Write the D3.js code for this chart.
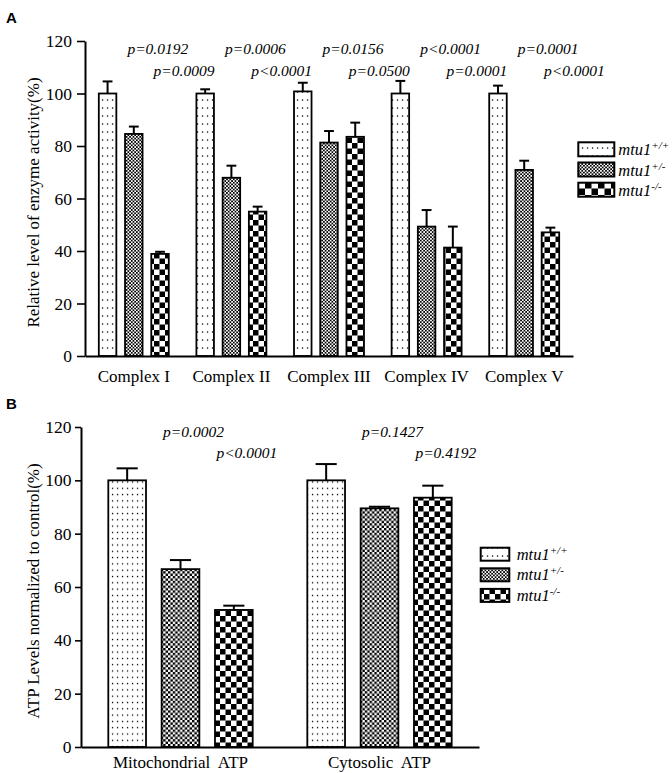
<!DOCTYPE html>
<html><head><meta charset="utf-8">
<script src="https://cdn.jsdelivr.net/npm/d3@7"></script>
<style>
body{margin:0;background:#fff}
svg text{font-family:"Liberation Serif","Times New Roman",serif;fill:#000}
</style></head><body>
<svg id="chart" width="672" height="773"></svg>
<script>
// ---------- data ----------
const seriesBase = ["mtu1", "mtu1", "mtu1"];
const seriesSup = ["+/+", "+/-", "-/-"];
const yTicks = [0, 20, 40, 60, 80, 100, 120];

// Panel A
const complexCategories = ["Complex I", "Complex II", "Complex III", "Complex IV", "Complex V"];
const complexWT = [100, 100, 100.8, 100, 100];
const complexWTErr = [4.6, 1.6, 3.3, 4.8, 3.0];
const complexHet = [84.6, 67.9, 81.3, 49.3, 70.9];
const complexHetErr = [2.8, 4.6, 4.4, 6.3, 3.5];
const complexKO = [38.9, 55.0, 83.5, 41.3, 47.1];
const complexKOErr = [0.8, 1.9, 5.4, 8.0, 1.8];
const complexPHet = ["p=0.0192", "p=0.0006", "p=0.0156", "p<0.0001", "p=0.0001"];
const complexPKO = ["p=0.0009", "p<0.0001", "p=0.0500", "p=0.0001", "p<0.0001"];

// Panel B
const atpCategories = ["Mitochondrial  ATP", "Cytosolic  ATP"];
const atpWT = [100, 100];
const atpWTErr = [4.5, 6.1];
const atpHet = [66.7, 89.5];
const atpHetErr = [3.4, 0.6];
const atpKO = [51.4, 93.5];
const atpKOErr = [1.6, 4.5];
const atpPHet = ["p=0.0002", "p=0.1427"];
const atpPKO = ["p<0.0001", "p=0.4192"];

// ---------- drawing ----------
const SERIF = "'Liberation Serif', 'Times New Roman', serif";
const svg = d3.select("#chart");
const defs = svg.append("defs");

function dotPattern(id, w, h) {
  const p = defs.append("pattern").attr("id", id).attr("patternUnits", "userSpaceOnUse")
    .attr("width", w).attr("height", h);
  p.append("rect").attr("width", w).attr("height", h).attr("fill", "#fff");
  p.append("rect").attr("x", w / 2 - 0.6).attr("y", h / 2 - 0.6).attr("width", 1.3).attr("height", 1.3).attr("fill", "#000");
}
function checkPattern(id, c) {
  const p = defs.append("pattern").attr("id", id).attr("patternUnits", "userSpaceOnUse")
    .attr("width", 2 * c).attr("height", 2 * c);
  p.append("rect").attr("width", 2 * c).attr("height", 2 * c).attr("fill", "#fff");
  p.append("rect").attr("width", c).attr("height", c).attr("fill", "#000");
  p.append("rect").attr("x", c).attr("y", c).attr("width", c).attr("height", c).attr("fill", "#000");
}
dotPattern("dotsA", 5, 8);
dotPattern("dotsB", 5, 6.3);
checkPattern("hetA", 1.7);
checkPattern("hetB", 2.4);
checkPattern("koA", 5.5);
checkPattern("koB", 5.5);
checkPattern("koLegA", 6.5);

function drawPanel(o) {
  const g = svg.append("g");
  const y = d3.scaleLinear().domain([0, 120]).range([o.y0, o.y120]);
  const x0 = d3.scaleBand().domain(o.cats).range([o.xl, o.xr])
    .paddingInner(o.pIn).paddingOuter(o.pIn / 2);
  const x1 = d3.scaleBand().domain([0, 1, 2]).range([0, x0.bandwidth()]).paddingInner(o.subPad);
  const bw = x1.bandwidth();

  o.series.forEach((vals, si) => {
    const errs = o.errs[si];
    const gs = g.append("g");
    const data = o.cats.map((c, i) => ({ c, v: vals[i], e: errs[i] }));
    gs.selectAll("line.err").data(data).enter().append("line")
      .attr("x1", d => x0(d.c) + x1(si) + bw / 2).attr("x2", d => x0(d.c) + x1(si) + bw / 2)
      .attr("y1", d => y(d.v)).attr("y2", d => y(d.v + d.e))
      .attr("stroke", "#000").attr("stroke-width", 2);
    gs.selectAll("line.cap").data(data).enter().append("line")
      .attr("x1", d => x0(d.c) + x1(si) + bw / 2 - bw * 0.28)
      .attr("x2", d => x0(d.c) + x1(si) + bw / 2 + bw * 0.28)
      .attr("y1", d => y(d.v + d.e)).attr("y2", d => y(d.v + d.e))
      .attr("stroke", "#000").attr("stroke-width", 2);
    gs.selectAll("rect").data(data).enter().append("rect")
      .attr("x", d => x0(d.c) + x1(si)).attr("width", bw)
      .attr("y", d => y(d.v)).attr("height", d => y(0) - y(d.v))
      .attr("fill", `url(#${o.patterns[si]})`).attr("stroke", "#000").attr("stroke-width", 1.8);
  });

  // p-values
  [o.pHet, o.pKO].forEach((arr, k) => {
    g.selectAll(null).data(arr).enter().append("text")
      .attr("x", (d, i) => x0(o.cats[i]) + x1(k + 1) + bw / 2 + o.pOff)
      .attr("y", o.pY[k])
      .attr("text-anchor", "middle")
      .style("font-family", SERIF).style("font-style", "italic").style("font-size", "15.5px")
      .text(d => d);
  });

  // axes
  const ya = g.append("g").attr("transform", `translate(${o.xl},0)`)
    .call(d3.axisLeft(y).tickValues(yTicks).tickSize(o.tickLen).tickSizeOuter(0).tickPadding(o.tickPad).tickFormat(d3.format("d")));
  ya.attr("font-family", null).attr("font-size", null);
  ya.selectAll("text").style("font-family", SERIF).style("font-size", "17.5px");
  ya.select(".domain").attr("stroke-width", 2);
  ya.selectAll(".tick line").attr("stroke-width", 1.6);

  const xa = g.append("g").attr("transform", `translate(0,${o.y0})`)
    .call(d3.axisBottom(x0).tickSize(0).tickSizeOuter(0).tickPadding(o.xPad));
  xa.attr("font-family", null).attr("font-size", null);
  xa.selectAll("text").style("font-family", SERIF).style("font-size", "17px").style("white-space", "pre");
  xa.select(".domain").attr("stroke-width", 2);

  // y title
  g.append("text")
    .attr("transform", `translate(${o.titleX},${(o.y0 + o.y120) / 2 + 4}) rotate(-90)`)
    .attr("text-anchor", "middle").style("font-family", SERIF).style("font-size", "17px").text(o.title);

  // legend
  o.patterns.forEach((p, i) => {
    const ly = o.legY + i * o.legStep;
    g.append("rect").attr("x", o.legX).attr("y", ly).attr("width", o.legW).attr("height", o.legH)
      .attr("fill", `url(#${o.legPatterns[i]})`).attr("stroke", "#000").attr("stroke-width", 2);
    const t = g.append("text").attr("x", o.legTextX).attr("y", ly + o.legH - 1)
      .style("font-family", SERIF).style("font-style", "italic").style("font-size", "16.5px");
    t.append("tspan").text(seriesBase[i]);
    t.append("tspan").attr("dy", -6).style("font-size", "11px").text(seriesSup[i]);
  });

  // panel letter
  svg.append("text").attr("x", 6).attr("y", o.letterY)
    .style("font-family", "'Liberation Sans', Arial, sans-serif")
    .style("font-weight", "bold").style("font-size", "15px").text(o.letter);
}

drawPanel({
  cats: complexCategories,
  series: [complexWT, complexHet, complexKO],
  errs: [complexWTErr, complexHetErr, complexKOErr],
  pHet: complexPHet, pKO: complexPKO,
  patterns: ["dotsA", "hetA", "koA"], legPatterns: ["dotsA", "hetA", "koLegA"],
  xl: 85, xr: 573, y0: 356, y120: 41, pIn: 0.283, subPad: 0.332,
  tickLen: 8, tickPad: 5, xPad: 13.6, titleX: 39,
  title: "Relative level of enzyme activity(%)",
  pOff: 24, pY: [54, 76],
  legX: 578.3, legY: 142.3, legW: 36, legH: 14, legStep: 20.2, legTextX: 618.3,
  letter: "A", letterY: 23
});

drawPanel({
  cats: atpCategories,
  series: [atpWT, atpHet, atpKO],
  errs: [atpWTErr, atpHetErr, atpKOErr],
  pHet: atpPHet, pKO: atpPKO,
  patterns: ["dotsB", "hetB", "koB"], legPatterns: ["dotsA", "hetA", "koA"],
  xl: 81, xr: 479, y0: 747, y120: 427, pIn: 0.2744, subPad: 0.293,
  tickLen: 6, tickPad: 3.5, xPad: 9, titleX: 39,
  title: "ATP Levels normalized to control(%)",
  pOff: 13, pY: [436.7, 458.3],
  legX: 480.7, legY: 547.7, legW: 28.6, legH: 13, legStep: 20.6, legTextX: 516.7,
  letter: "B", letterY: 409
});
</script>
</body></html>
